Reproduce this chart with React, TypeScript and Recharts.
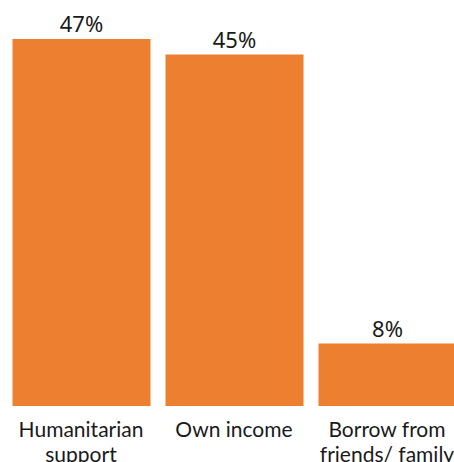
import { Bar, BarChart, LabelList, XAxis, YAxis } from "recharts";

const categories = ["Humanitarian support", "Own income", "Borrow from friends/ family"];
const shares = [47, 45, 8];
const tickLines: string[][] = [["Humanitarian", "support"], ["Own income"], ["Borrow from", "friends/ family"]];

const data = categories.map((name, i) => ({ name, value: shares[i], lines: tickLines[i] }));

const CategoryTick = (props: any) => {
  const { x, y, index } = props;
  const lines = tickLines[index] || [];
  return (
    <text x={x} y={y} textAnchor="middle" fill="#1a1a1a" fontFamily="Lato" fontSize={21}>
      {lines.map((line, i) => (
        <tspan key={i} x={x} dy={i === 0 ? 23 : 25}>
          {line}
        </tspan>
      ))}
    </text>
  );
};

const App = () => {
  return (
    <div style={{ position: "fixed", left: 0, top: 0, width: 454, height: 462, overflow: "hidden", background: "#fff" }}>
      <BarChart width={470} height={462} data={data} margin={{ top: 39, right: 6.5, left: 4.5, bottom: 0 }}>
        <XAxis dataKey="name" axisLine={false} tickLine={false} height={56} tick={<CategoryTick />} interval={0} />
        <YAxis hide domain={[0, 47]} />
        <Bar dataKey="value" fill="#ed7f31" barSize={138} isAnimationActive={false}>
          <LabelList
            dataKey="value"
            position="top"
            offset={7}
            formatter={(v: any) => `${v}%`}
            style={{ fill: "#1a1a1a", fontFamily: "Noto Sans", fontSize: 22 }}
          />
        </Bar>
      </BarChart>
    </div>
  );
};

export default App;
